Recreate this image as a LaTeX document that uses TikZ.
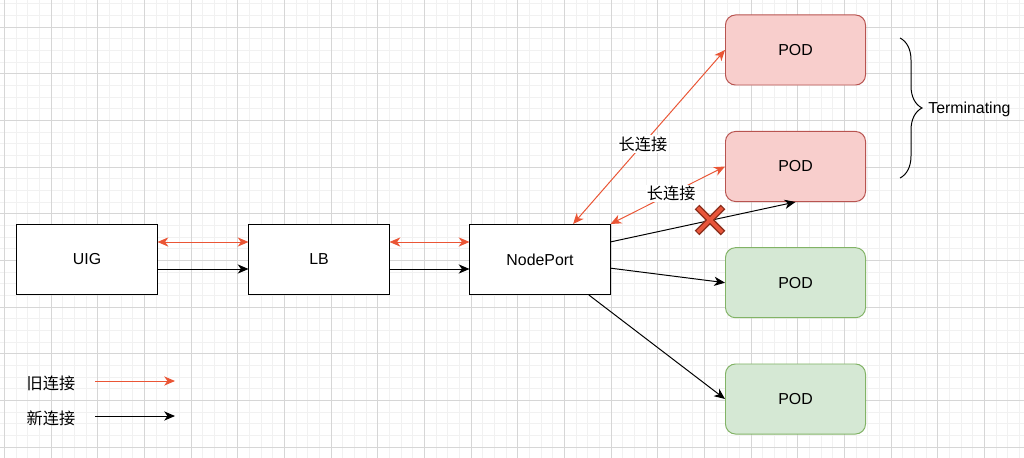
\documentclass[tikz,border=0pt]{standalone}
\usepackage{fontspec}
\setmainfont{Liberation Sans}
\newfontfamily\cjk{Noto Sans CJK SC}
\usepackage{tikz}
\usetikzlibrary{arrows.meta,decorations.pathreplacing}

\definecolor{oldred}{HTML}{EA5535}
\definecolor{podredfill}{HTML}{F8CECC}
\definecolor{podredline}{HTML}{B85450}
\definecolor{podgreenfill}{HTML}{D5E8D4}
\definecolor{podgreenline}{HTML}{82B366}
\definecolor{gridminor}{HTML}{F1F1F1}
\definecolor{gridmajor}{HTML}{D6D6D6}
\definecolor{crossdark}{HTML}{8A2E1C}
\definecolor{crossfill}{HTML}{E8553A}

\tikzset{
  box/.style={draw, line width=0.7pt, fill=white, minimum width=3.5cm, minimum height=1.75cm,
    font=\fontsize{11.3}{13}\selectfont},
  podred/.style={box, rounded corners=0.25cm, draw=podredline, fill=podredfill},
  podgreen/.style={box, rounded corners=0.25cm, draw=podgreenline, fill=podgreenfill},
  oldconn/.style={draw=oldred, line width=0.7pt},
  newconn/.style={draw=black, line width=0.7pt},
  lbl/.style={fill=white, inner sep=1pt, font=\cjk\fontsize{11.5}{13}\selectfont},
  keytext/.style={font=\cjk\fontsize{11.5}{13}\selectfont}
}

\begin{document}
\begin{tikzpicture}[x=0.025cm, y=-0.025cm, >={Stealth[length=0.27cm,width=0.23cm,inset=0.08cm]}]
\fill[white] (0,0) rectangle (1024,458);
\useasboundingbox (0,0) rectangle (1024,458);

% grid
\foreach \i in {0,...,87} \draw[gridminor, line width=0.6pt] ({4.33+11.667*\i},0) -- ({4.33+11.667*\i},458);
\foreach \j in {0,...,38} \draw[gridminor, line width=0.6pt] (0,{3.67+11.667*\j}) -- (1024,{3.67+11.667*\j});
\foreach \i in {0,...,21} \draw[gridmajor, line width=0.6pt] ({4.33+46.667*\i},0) -- ({4.33+46.667*\i},458);
\foreach \j in {0,...,9} \draw[gridmajor, line width=0.6pt] (0,{27+46.667*\j}) -- (1024,{27+46.667*\j});

% boxes
\node[box] (uig) at (87,259.5) {UIG};
\node[box] (lb) at (319,259.5) {LB};
\node[box] (nodeport) at (540,259.5) {NodePort};
\node[podred] (poda) at (795.5,50) {POD};
\node[podred] (podb) at (795.5,166.5) {POD};
\node[podgreen] (podc) at (795.5,282.7) {POD};
\node[podgreen] (podd) at (795.5,399) {POD};

% connections
\draw[oldconn,<->] ([yshift=0.4375cm]uig.east) -- ([yshift=0.4375cm]lb.west);
\draw[newconn,->] ([yshift=-0.2375cm]uig.east) -- ([yshift=-0.2375cm]lb.west);
\draw[oldconn,<->] ([yshift=0.4375cm]lb.east) -- ([yshift=0.4375cm]nodeport.west);
\draw[newconn,->] ([yshift=-0.2375cm]lb.east) -- ([yshift=-0.2375cm]nodeport.west);

\draw[oldconn,<->] (nodeport.47) -- (poda.west) node[lbl, pos=0.46] {长连接};
\draw[oldconn,<->] (nodeport.north east) -- (podb.west) node[lbl, pos=0.53] {长连接};
\draw[newconn,->] (nodeport.14) -- (podb.south);
\draw[newconn,->] (nodeport.-7) -- (podc.west);
\draw[newconn,->] (nodeport.-36) -- (podd.west);

% broken link mark
\draw[crossdark, line width=0.16cm] (697,207) -- (723,233) (697,233) -- (723,207);
\draw[crossfill, line width=0.09cm] (697.8,207.8) -- (722.2,232.2) (697.8,232.2) -- (722.2,207.8);

% terminating brace
\coordinate (bracetop) at (900,38);
\coordinate (bracebot) at (900,178);
\draw[decorate, decoration={brace, amplitude=0.55cm}, line width=0.7pt] (bracetop) -- (bracebot);
\node[anchor=west, inner sep=0pt, font=\fontsize{11.3}{13}\selectfont] (term) at (928,109) {Terminating};

% legend
\node[keytext] (oldkey) at (51,383) {旧连接};
\node[keytext] (newkey) at (51,418) {新连接};
\coordinate (oldfrom) at (95,381); \coordinate (oldto) at (175,381);
\coordinate (newfrom) at (95,416); \coordinate (newto) at (175,416);
\draw[oldconn,->] (oldfrom) -- (oldto);
\draw[newconn,->] (newfrom) -- (newto);
\end{tikzpicture}
\end{document}
